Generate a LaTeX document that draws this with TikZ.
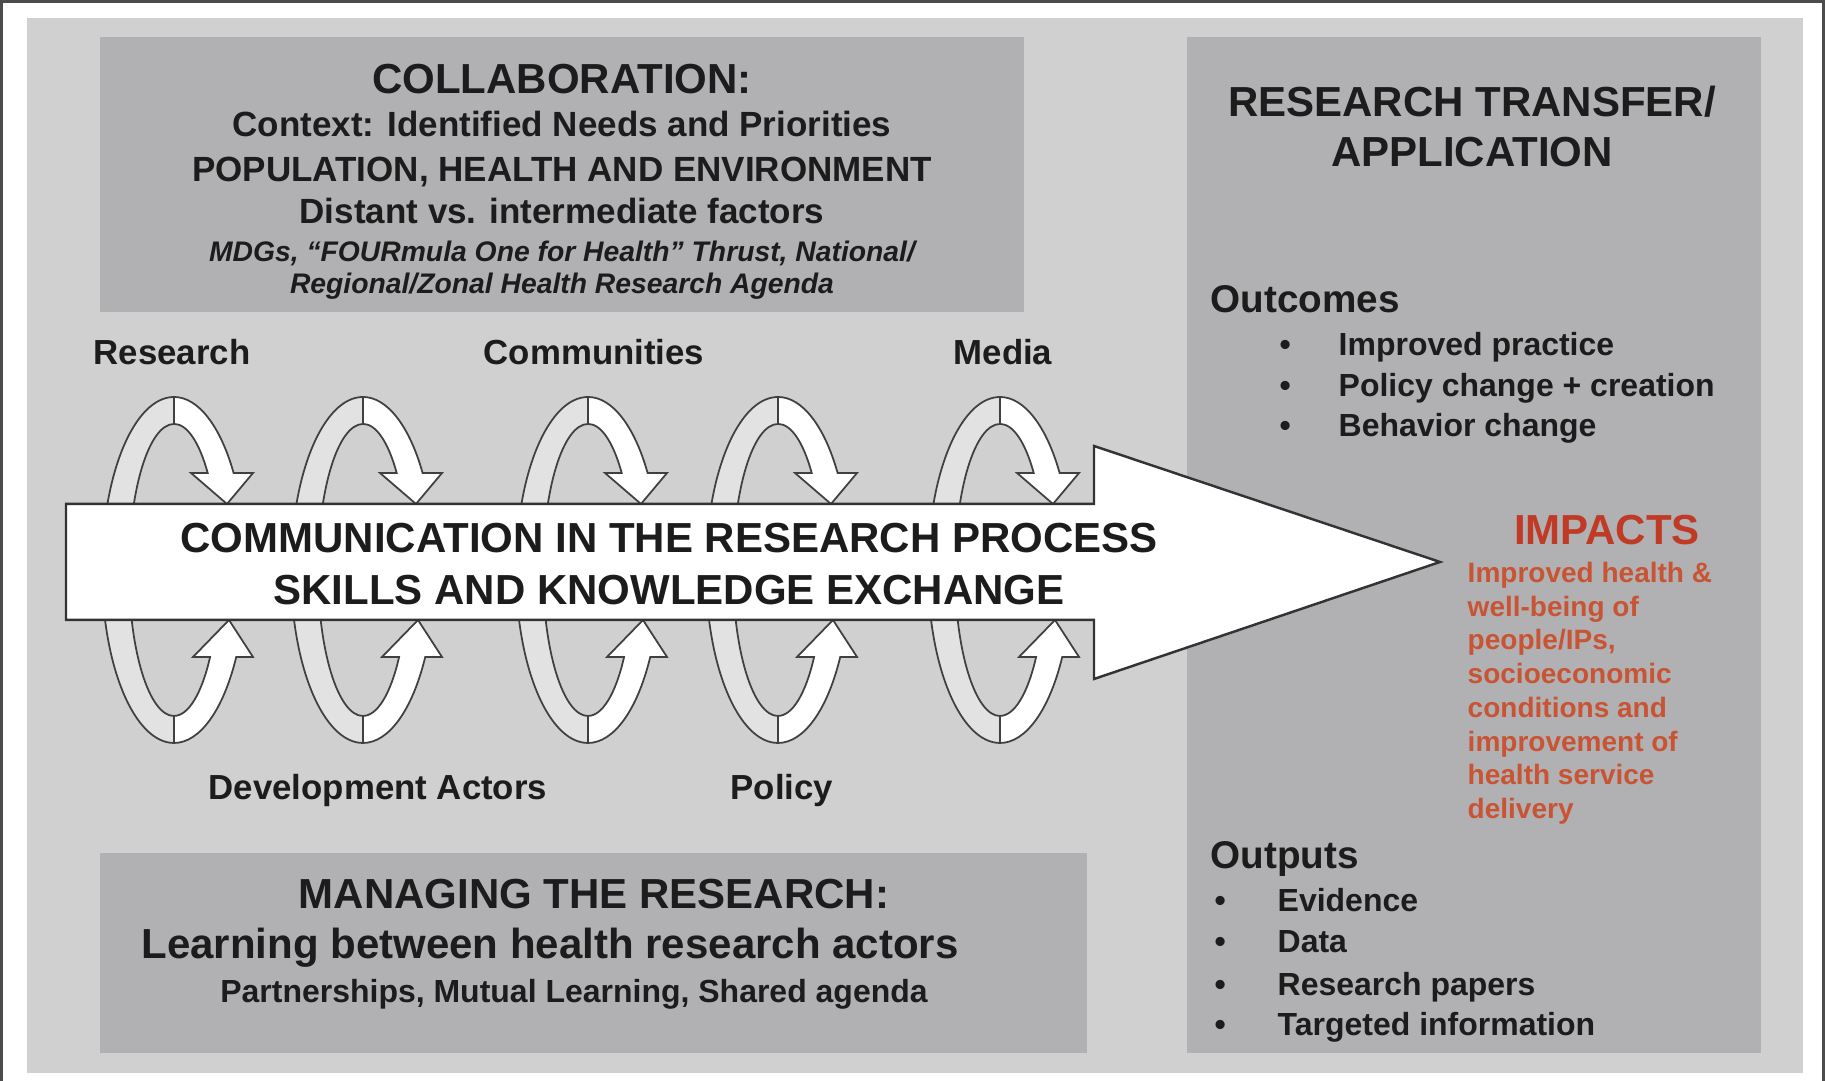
\documentclass[tikz,border=0pt]{standalone}
\usepackage{fontspec}
\setmainfont{Liberation Sans}
\usetikzlibrary{calc}

\definecolor{panelgray}{RGB}{208,208,209}
\definecolor{boxgray}{RGB}{177,176,179}
\definecolor{bandgray}{RGB}{226,226,226}
\definecolor{inkgray}{RGB}{28,28,28}
\definecolor{impactred}{RGB}{192,58,38}
\definecolor{impacttext}{RGB}{200,84,52}

\tikzset{
	loopline/.style={draw=black!75, line width=0.5pt},
	hd/.style={font=\bfseries\fontsize{11.95}{14}\selectfont, text=inkgray, inner sep=0pt},
	sub/.style={font=\bfseries\fontsize{9.96}{12}\selectfont, text=inkgray, inner sep=0pt},
	subhd/.style={font=\bfseries\fontsize{11}{13}\selectfont, text=inkgray, inner sep=0pt},
	looplabel/.style={font=\bfseries\fontsize{9.9}{12}\selectfont, text=inkgray, inner sep=0pt},
	listitem/.style={font=\bfseries\fontsize{9.1}{11}\selectfont, text=inkgray, inner sep=0pt},
	smallit/.style={font=\bfseries\itshape\fontsize{8.05}{10}\selectfont, text=inkgray, inner sep=0pt},
	impactnote/.style={font=\bfseries\fontsize{7.97}{9.59}\selectfont, text=impacttext, inner sep=0pt, align=left}
}

% one exchange loop behind the big arrow, centred at x=#1
\def\exchangeloop(#1){%
	\begin{scope}[shift={(#1,5.11)}]
		\draw[loopline, fill=bandgray] (-0.72,0) arc[start angle=180, end angle=90, x radius=0.72, y radius=1.73]
			-- (0,1.46) arc[start angle=90, end angle=180, x radius=0.45, y radius=1.46] -- cycle;
		\draw[loopline, fill=white] (0,1.73) arc[start angle=90, end angle=34.1, x radius=0.72, y radius=1.73]
			-- (0.79,0.97) -- (0.53,0.66) -- (0.17,0.97) -- (0.337,0.97)
			arc[start angle=41.6, end angle=90, x radius=0.45, y radius=1.46] -- cycle;
		\draw[loopline, fill=bandgray] (-0.72,0) arc[start angle=180, end angle=270, x radius=0.72, y radius=1.73]
			-- (0,-1.46) arc[start angle=270, end angle=180, x radius=0.45, y radius=1.46] -- cycle;
		\draw[loopline, fill=white] (0,-1.73) arc[start angle=270, end angle=329.8, x radius=0.72, y radius=1.73]
			-- (0.79,-0.87) -- (0.55,-0.50) -- (0.19,-0.87) -- (0.361,-0.87)
			arc[start angle=323.4, end angle=270, x radius=0.45, y radius=1.46] -- cycle;
	\end{scope}}

\begin{document}
\begin{tikzpicture}
			%%%%% START %%%%%
			\useasboundingbox (0,0) rectangle (18.25,10.81);
			\fill[white] (0,0) rectangle (18.25,10.81);
			\draw[line width=0.85pt, color=black!70] (0.015,0) -- (0.015,10.795) -- (18.235,10.795) -- (18.235,0);
			
			\fill[panelgray] (0.27,0.08) rectangle (18.03,10.63);
			\fill[boxgray] (1.00,7.69) rectangle (10.24,10.44);
			\fill[boxgray] (11.87,0.28) rectangle (17.61,10.44);
			\fill[boxgray] (1.00,0.28) rectangle (10.87,2.28);
			
			\node[hd, anchor=base] (collab) at (5.62,9.87) {COLLABORATION:};
			\node[sub, anchor=base] (context) at (5.62,9.44) {Context: Identified Needs and Priorities};
			\node[sub, anchor=base] (phe) at (5.62,8.99) {POPULATION, HEALTH AND ENVIRONMENT};
			\node[sub, anchor=base] (factors) at (5.62,8.57) {Distant vs. intermediate factors};
			\node[smallit, anchor=base] (mdgs) at (5.62,8.19) {MDGs, “FOURmula One for Health” Thrust, National/};
			\node[smallit, anchor=base] (agenda) at (5.62,7.87) {Regional/Zonal Health Research Agenda};
			
			\node[looplabel, anchor=base] (research) at (1.72,7.16) {Research};
			\node[looplabel, anchor=base] (communities) at (5.94,7.16) {Communities};
			\node[looplabel, anchor=base] (media) at (10.03,7.16) {Media};
			\node[looplabel, anchor=base] (actors) at (3.78,2.81) {Development Actors};
			\node[looplabel, anchor=base] (policy) at (7.82,2.81) {Policy};
			
			\foreach \cx in {1.74,3.63,5.88,7.78,10.00}
				\exchangeloop(\cx);
			
			\draw[fill=white, draw=black!80, line width=0.7pt] (0.66,5.77) -- (10.94,5.77) -- (10.94,6.35) -- (14.40,5.19)
				-- (10.94,4.02) -- (10.94,4.61) -- (0.66,4.61) -- cycle;
			\node[hd, anchor=base] (commA) at (6.69,5.28) {COMMUNICATION IN THE RESEARCH PROCESS};
			\node[hd, anchor=base] (commB) at (6.69,4.76) {SKILLS AND KNOWLEDGE EXCHANGE};
			
			\node[hd, anchor=base] (transfer) at (14.72,9.64) {RESEARCH TRANSFER/};
			\node[hd, anchor=base] (application) at (14.72,9.14) {APPLICATION};
			
			\node[subhd, anchor=base west] (outcomes) at (12.10,7.68) {Outcomes};
			\node[listitem, anchor=base west] (practice) at (12.79,7.25) {\makebox[0.59cm][l]{\textbullet}Improved practice};
			\node[listitem, anchor=base west] (policychange) at (12.79,6.84) {\makebox[0.59cm][l]{\textbullet}Policy change + creation};
			\node[listitem, anchor=base west] (behavior) at (12.79,6.44) {\makebox[0.59cm][l]{\textbullet}Behavior change};
			
			\node[hd, text=impactred, anchor=base] (impacts) at (16.07,5.36) {IMPACTS};
			\node[impactnote, anchor=north west] (benefits) at (14.67,5.195) {Improved health \&\\ well-being of\\ people/IPs,\\ socioeconomic\\ conditions and\\ improvement of\\ health service\\ delivery};
			
			\node[subhd, anchor=base west] (outputs) at (12.10,2.12) {Outputs};
			\node[listitem, anchor=base west] (evidence) at (12.14,1.69) {\makebox[0.63cm][l]{\textbullet}Evidence};
			\node[listitem, anchor=base west] (data) at (12.14,1.28) {\makebox[0.63cm][l]{\textbullet}Data};
			\node[listitem, anchor=base west] (papers) at (12.14,0.85) {\makebox[0.63cm][l]{\textbullet}Research papers};
			\node[listitem, anchor=base west] (targeted) at (12.14,0.45) {\makebox[0.63cm][l]{\textbullet}Targeted information};
			
			\node[hd, anchor=base] (managing) at (5.94,1.72) {MANAGING THE RESEARCH:};
			\node[hd, anchor=base] (learning) at (5.50,1.22) {Learning between health research actors};
			\node[listitem, anchor=base] (partners) at (5.74,0.78) {Partnerships, Mutual Learning, Shared agenda};
			%%%%% END %%%%%
\end{tikzpicture}
\end{document}
